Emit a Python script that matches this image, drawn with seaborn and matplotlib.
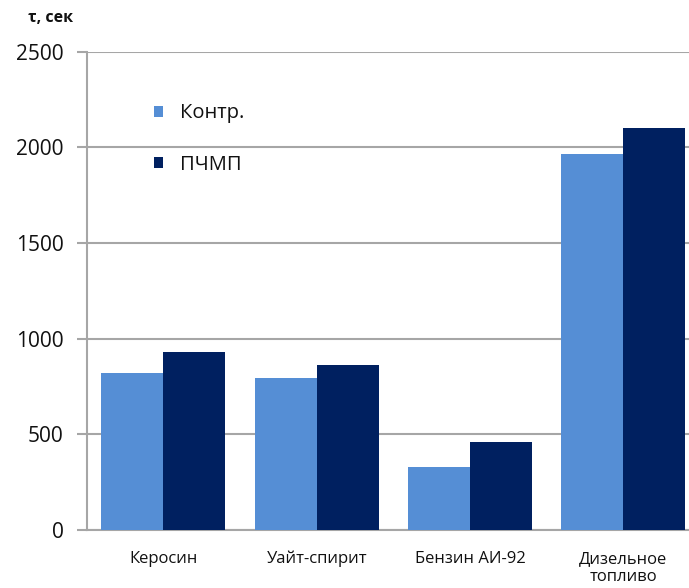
import matplotlib
matplotlib.use("Agg")
import matplotlib.pyplot as plt
import seaborn as sns
import pandas as pd

# Burn time per fuel, control vs. treated sample
categories = ["Керосин", "Уайт-спирит", "Бензин АИ-92", "Дизельное\nтопливо"]
series_names = ["Контр.", "ПЧМП"]
control_values = [820, 792, 330, 1967]
treated_values = [930, 865, 458, 2100]
y_ticks = [0, 500, 1000, 1500, 2000, 2500]

df = pd.DataFrame({
    "fuel": categories * 2,
    "series": [series_names[0]] * 4 + [series_names[1]] * 4,
    "time": control_values + treated_values,
})

sns.set_theme(style="white")
plt.rcParams["font.family"] = ["Open Sans", "DejaVu Sans"]

W, H = 689, 588
fig = plt.figure(figsize=(W / 100, H / 100), dpi=100)
left, right, top, bottom = 86.7, 700.0, 51.7, 530.0
ax = fig.add_axes([left / W, 1 - bottom / H, (right - left) / W, (bottom - top) / H])

palette = {"Контр.": "#558ED5", "ПЧМП": "#002060"}
sns.barplot(data=df, x="fuel", y="time", hue="series", order=categories,
            hue_order=series_names, palette=palette, width=0.81, gap=0,
            saturation=1, linewidth=0, ax=ax, zorder=3)

ax.set_xlim(-0.5, 3.5)
ax.set_ylim(0, 2500)
ax.set_yticks(y_ticks)
ax.set_xlabel("")
ax.set_ylabel("")

ax.yaxis.grid(True, color="#A6A6A6", linewidth=1.5, zorder=0)
ax.xaxis.grid(False)
for side in ["top", "right"]:
    ax.spines[side].set_visible(False)
for side in ["left", "bottom"]:
    ax.spines[side].set_color("#A6A6A6")
    ax.spines[side].set_linewidth(1.5)

ax.tick_params(axis="y", which="major", direction="out", length=7, width=1.5,
               color="#A6A6A6", pad=9.5, labelsize=15, labelcolor="#111111", left=True)
ax.tick_params(axis="x", which="major", length=0, pad=15, labelsize=12,
               labelcolor="#111111")
for lbl in ax.get_xticklabels():
    lbl.set_linespacing(1.15)
    lbl.set_verticalalignment("top")

leg = ax.legend(loc="upper left", bbox_to_anchor=(0.08, 0.93), frameon=False,
                fontsize=14.5, handlelength=0.45, handleheight=0.45,
                handletextpad=0.85, labelspacing=1.55)
for t in leg.get_texts():
    t.set_color("#111111")

fig.text(51 / W, 1 - 18 / H, "τ, сек", ha="center", va="center",
         fontsize=11.5, fontweight="bold", color="#111111")

fig.savefig("out.png", dpi=100, facecolor="white")
